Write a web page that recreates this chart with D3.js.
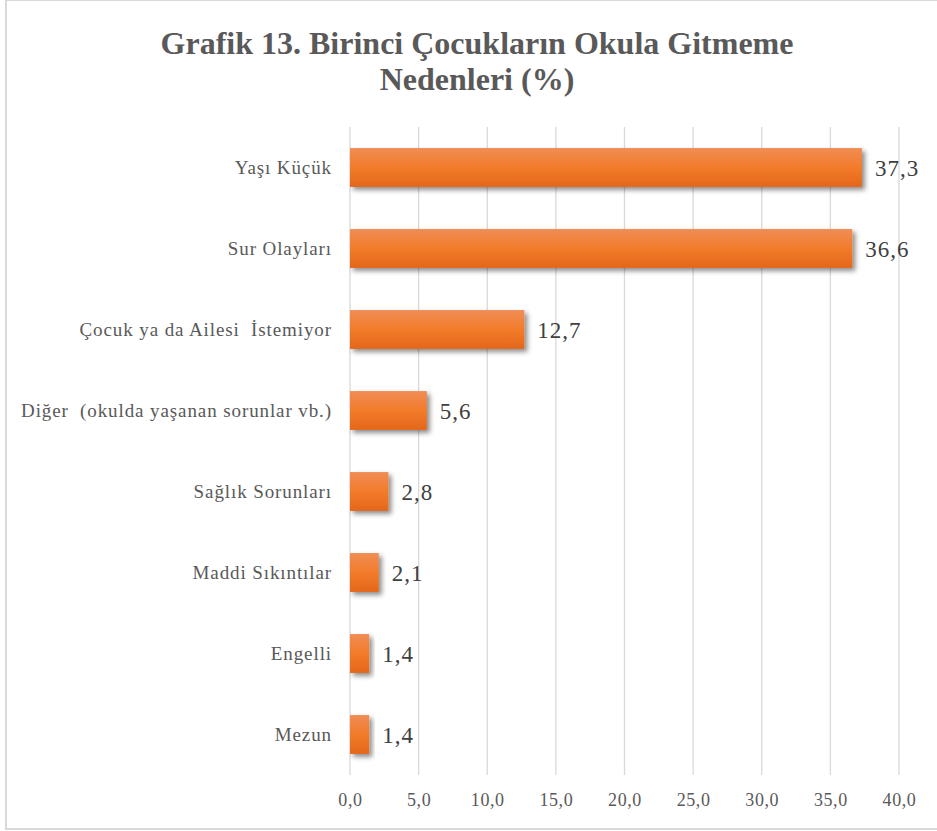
<!DOCTYPE html>
<html>
<head>
<meta charset="utf-8">
<script src="https://cdn.jsdelivr.net/npm/d3@7"></script>
<style>
  body { margin: 0; background: #fff; }
  svg text { font-family: 'Liberation Serif', 'Times New Roman', serif !important; }
</style>
</head>
<body>
<div class="chart"></div>
<script>
// data
const categories = ["Yaşı Küçük", "Sur Olayları", "Çocuk ya da Ailesi  İstemiyor",
  "Diğer  (okulda yaşanan sorunlar vb.)", "Sağlık Sorunları", "Maddi Sıkıntılar", "Engelli", "Mezun"];
const values = [37.3, 36.6, 12.7, 5.6, 2.8, 2.1, 1.4, 1.4];
const xTicks = [0, 5, 10, 15, 20, 25, 30, 35, 40];
const titleLines = ["Grafik 13. Birinci Çocukların Okula Gitmeme", "Nedenleri (%)"];

const W = 937, H = 831;
const margin = {top: 127, right: 38, bottom: 56, left: 350};
let width = W - margin.left - margin.right;
let height = H - margin.top - margin.bottom;

let svg = d3.select(".chart").append("svg")
    .attr("width", W)
    .attr("height", H);

// chart border
svg.append("rect")
    .attr("x", 6).attr("y", 0)
    .attr("width", W).attr("height", 829)
    .attr("fill", "#fff")
    .attr("stroke", "#d9d9d9")
    .attr("stroke-width", 2);

let defs = svg.append("defs");
let grad = defs.append("linearGradient")
    .attr("id", "barGrad")
    .attr("x1", 0).attr("y1", 0).attr("x2", 0).attr("y2", 1);
grad.append("stop").attr("offset", "0%").attr("stop-color", "#f08d55");
grad.append("stop").attr("offset", "50%").attr("stop-color", "#f27b2a");
grad.append("stop").attr("offset", "100%").attr("stop-color", "#e4671b");

let shadow = defs.append("filter")
    .attr("id", "shadow")
    .attr("x", "-20%").attr("y", "-30%").attr("width", "150%").attr("height", "180%");
shadow.append("feDropShadow")
    .attr("dx", 3).attr("dy", 3)
    .attr("stdDeviation", 2.5)
    .attr("flood-color", "#000")
    .attr("flood-opacity", 0.45);

// title
svg.append("text")
    .attr("x", 477)
    .attr("text-anchor", "middle")
    .attr("font-size", 32)
    .attr("font-weight", "bold")
    .attr("fill", "#595959")
    .selectAll("tspan")
    .data(titleLines)
    .enter()
    .append("tspan")
    .attr("x", 477)
    .attr("y", (d, i) => 54 + i * 36)
    .text(d => d);

let g = svg.append("g")
    .attr("transform", "translate(" + margin.left + "," + margin.top + ")");

// scales
let xScale = d3.scaleLinear()
    .domain([0, 40])
    .range([0, width]);

let yScale = d3.scaleBand()
    .domain(categories)
    .range([0, height])
    .paddingInner(0.52)
    .paddingOuter(0.26);

// gridlines
g.selectAll(".grid")
    .data(xTicks)
    .enter()
    .append("line")
    .attr("x1", d => xScale(d))
    .attr("x2", d => xScale(d))
    .attr("y1", 0)
    .attr("y2", height)
    .attr("stroke", "#d9d9d9")
    .attr("stroke-width", 1.3);

// x axis
let xAxis = g.append("g")
    .attr("transform", "translate(0," + height + ")")
    .call(d3.axisBottom(xScale).tickValues(xTicks).tickSize(0).tickPadding(18)
        .tickFormat(d => d3.format(".1f")(d).replace(".", ",")));
xAxis.select(".domain").remove();
xAxis.selectAll("text")
    .style("font-size", "18px")
    .style("letter-spacing", "0.6px")
    .attr("fill", "#595959");

// y axis
let yAxis = g.append("g")
    .call(d3.axisLeft(yScale).tickSize(0).tickPadding(18));
yAxis.select(".domain").remove();
yAxis.selectAll("text")
    .style("font-size", "19px")
    .style("letter-spacing", "0.9px")
    .attr("fill", "#595959")
    .style("white-space", "pre");

// bars
g.selectAll(".bar")
    .data(values)
    .enter()
    .append("rect")
    .attr("x", xScale(0))
    .attr("y", (d, i) => yScale(categories[i]))
    .attr("width", d => xScale(d) - xScale(0))
    .attr("height", yScale.bandwidth())
    .attr("fill", "url(#barGrad)")
    .attr("filter", "url(#shadow)");

// value labels
g.selectAll(".val")
    .data(values)
    .enter()
    .append("text")
    .attr("x", d => xScale(d) + 13)
    .attr("y", (d, i) => yScale(categories[i]) + yScale.bandwidth() / 2)
    .attr("dy", "0.35em")
    .style("font-size", "23px")
    .style("letter-spacing", "1px")
    .attr("fill", "#404040")
    .text(d => d3.format(".1f")(d).replace(".", ","));
</script>
</body>
</html>
